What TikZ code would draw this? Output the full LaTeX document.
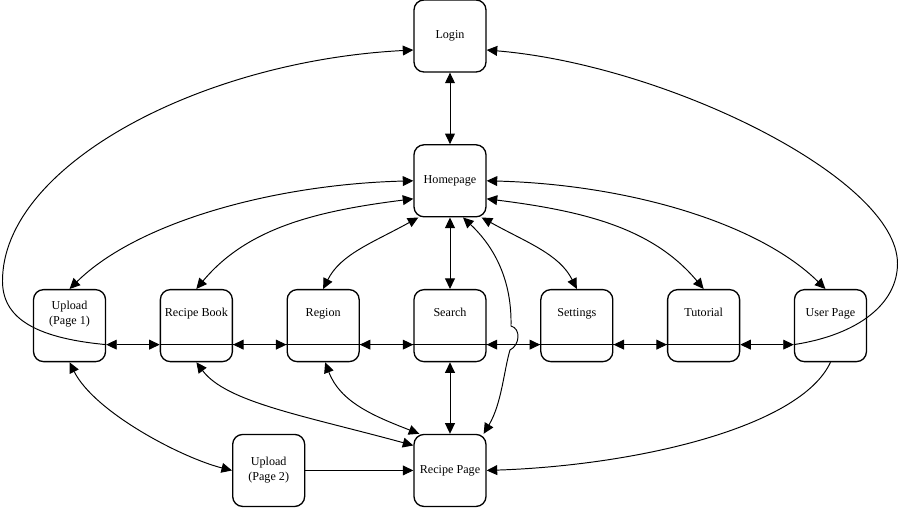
\documentclass[tikz,border=0pt]{standalone}
\usepackage{fontspec}
\setmainfont{Liberation Serif}
\usetikzlibrary{positioning,arrows.meta}
\begin{document}
\begin{tikzpicture}[node distance=1.43cm and 1.07cm,
  >={Triangle[length=6pt,width=5.6pt]},
  page/.style={draw, line width=0.75pt, rounded corners=0.2cm, fill=white, minimum width=1.44cm, minimum height=1.44cm, inner sep=1pt, align=center, font=\fontsize{6.9}{8.4}\selectfont},
  rowpage/.style={page, text height=4.8pt, text depth=15pt},
  link/.style={line width=0.55pt}]
\path[use as bounding box, fill=white] (-9,0.72) rectangle (9,-9.68);
\node[page] (login) {Login};
\node[page, below=of login] (homepage) {Homepage};
\node[rowpage, below=of homepage] (search) {Search};
\node[rowpage, left=of search] (region) {Region};
\node[rowpage, left=of region] (recipebook) {Recipe Book};
\node[page, text depth=14.3pt, left=of recipebook] (uploadone) {Upload\\(Page 1)};
\node[rowpage, right=of search] (settings) {Settings};
\node[rowpage, right=of settings] (tutorial) {Tutorial};
\node[rowpage, right=of tutorial] (userpage) {User Page};
\node[page, below=of search] (recipepage) {Recipe Page};
\node[page, left=2.16cm of recipepage] (uploadtwo) {Upload\\(Page 2)};
\coordinate (farleft) at (-8.95,-4.9);
\coordinate (farright) at (8.95,-4.55);
\coordinate (hopin) at (1.22,-5.8);
\coordinate (hopout) at (1.20,-6.28);
\draw[link, <->] (login) -- (homepage);
\draw[link, <->] (homepage) -- (search);
\draw[link, <->] (search) -- (recipepage);
\draw[link, ->] (uploadtwo) -- (recipepage);
\draw[link] ([yshift=-0.38cm]recipebook.west) -- ([yshift=-0.38cm]tutorial.east);
\draw[link, <->] ([yshift=-0.38cm]uploadone.east) -- ([yshift=-0.38cm]recipebook.west);
\draw[link, <->] ([yshift=-0.38cm]recipebook.east) -- ([yshift=-0.38cm]region.west);
\draw[link, <->] ([yshift=-0.38cm]region.east) -- ([yshift=-0.38cm]search.west);
\draw[link, <->] ([yshift=-0.38cm]search.east) -- ([yshift=-0.38cm]settings.west);
\draw[link, <->] ([yshift=-0.38cm]settings.east) -- ([yshift=-0.38cm]tutorial.west);
\draw[link, <->] ([yshift=-0.38cm]tutorial.east) -- ([yshift=-0.38cm]userpage.west);
\draw[link, ->] ([yshift=-0.38cm]uploadone.east) .. controls +(-1.5,0.14) and +(0,-0.7) .. (farleft) .. controls +(0,2.3) and +(-4.28,-0.22) .. ([yshift=-0.28cm]login.west);
\draw[link, ->] ([yshift=-0.38cm]userpage.west) .. controls +(1.3,0.2) and +(0,-0.8) .. (farright) .. controls +(0,1.7) and +(3.6,-0.3) .. ([yshift=-0.28cm]login.east);
\draw[link, <->] (homepage.west) .. controls +(-2.78,-0.07) and +(1.36,1.34) .. (uploadone.north);
\draw[link, <->] ([yshift=-0.36cm]homepage.west) .. controls +(-2.0,-0.25) and +(1.0,1.2) .. (recipebook.north);
\draw[link, <->] ([xshift=0.1cm]homepage.south west) .. controls +(-0.9,-0.5) and +(0.35,0.7) .. (region.north);
\draw[link, <->] ([xshift=-0.1cm]homepage.south east) .. controls +(0.9,-0.5) and +(-0.35,0.7) .. (settings.north);
\draw[link, <->] ([yshift=-0.36cm]homepage.east) .. controls +(2.0,-0.25) and +(-1.0,1.2) .. (tutorial.north);
\draw[link, <->] (homepage.east) .. controls +(2.78,-0.07) and +(-1.36,1.34) .. ([xshift=-0.1cm]userpage.north);
\draw[link, <->] ([xshift=0.26cm]homepage.south) .. controls +(0.64,-0.6) and +(0.02,0.9) .. (hopin) .. controls +(0.2,-0.05) and +(0.2,0.1) .. (hopout) .. controls +(-0.12,-0.4) and +(0.36,0.6) .. ([xshift=-0.06cm]recipepage.north east);
\draw[link, <->] ([xshift=0.04cm]region.south) .. controls +(0.3,-0.8) and +(-0.9,0.35) .. ([xshift=0.12cm]recipepage.north west);
\draw[link, <->] (recipebook.south) .. controls +(0.6,-0.8) and +(-2.2,0.6) .. ([yshift=0.5cm]recipepage.west);
\draw[link, <->] (uploadone.south) .. controls +(0.5,-1.0) and +(-1.0,0.25) .. (uploadtwo.west);
\draw[link, ->] (userpage.south) .. controls +(-0.6,-1.3) and +(3.0,0.1) .. (recipepage.east);
\end{tikzpicture}
\end{document}
